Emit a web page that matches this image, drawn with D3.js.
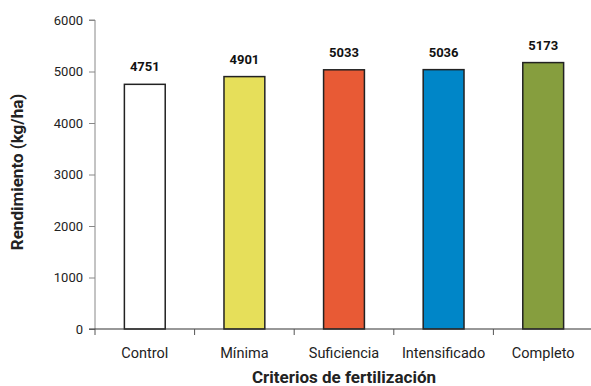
<!DOCTYPE html>
<html><head><meta charset="utf-8">
<script src="https://cdn.jsdelivr.net/npm/d3@7"></script>
<style>body{margin:0;background:#fff;font-family:Roboto,"Noto Sans",sans-serif;}</style>
</head><body><svg id="c" width="591" height="386"></svg>
<script>
const categories = ["Control","Mínima","Suficiencia","Intensificado","Completo"];
const values = [4751,4901,5033,5036,5173];
const colors = ["#ffffff","#e6df5a","#e85a35","#0086c8","#869e3e"];
const yTicks = [0,1000,2000,3000,4000,5000,6000];

const svg = d3.select("#c");
const m = {left:95, right:-2, top:20, bottom:57};
const W = 591, H = 386;
const x = d3.scaleBand().domain(categories).range([m.left, W - m.right]).paddingInner(0.59).paddingOuter(0.295);
const y = d3.scaleLinear().domain([0,6000]).range([H - m.bottom, m.top]);

// y axis
const ya = svg.append("g").attr("transform",`translate(${m.left},0)`)
  .call(d3.axisLeft(y).tickValues(yTicks).tickSize(6).tickPadding(6).tickFormat(d3.format("d")));
ya.selectAll("text").attr("font-size",13).attr("fill","#222").attr("font-family","Roboto");
ya.selectAll("line,path").attr("stroke","#888");
ya.select("path").attr("d",`M-6,${y(6000)}H0V${y(0)}`);

// bars
svg.selectAll("rect.bar").data(values).enter().append("rect")
  .attr("x",(d,i)=>x(categories[i])).attr("width",x.bandwidth())
  .attr("y",d=>y(d)).attr("height",d=>y(0)-y(d))
  .attr("fill",(d,i)=>colors[i]).attr("stroke","#222").attr("stroke-width",1.5);

// x axis with ticks at band boundaries
const xg = svg.append("g").attr("transform",`translate(0,${y(0)})`);
xg.append("line").attr("x1",m.left-6).attr("x2",W).attr("stroke","#333").attr("stroke-width",1.2);
const step = x.step();
const bounds = d3.range(categories.length).map(i=>m.left + i*step);
xg.selectAll("line.t").data(bounds).enter().append("line")
  .attr("x1",d=>d).attr("x2",d=>d).attr("y1",0).attr("y2",6).attr("stroke","#555");
xg.selectAll("text").data(categories).enter().append("text")
  .attr("x",d=>x(d)+x.bandwidth()/2).attr("y",29).attr("text-anchor","middle")
  .attr("font-size",14.5).attr("fill","#222").text(d=>d);

// value labels
svg.selectAll("text.val").data(values).enter().append("text")
  .attr("x",(d,i)=>x(categories[i])+x.bandwidth()/2).attr("y",d=>y(d)-13)
  .attr("text-anchor","middle").attr("font-size",13).attr("font-weight","bold").attr("fill","#111")
  .text(d=>d);

// titles
svg.append("text").attr("x",344).attr("y",383).attr("text-anchor","middle")
  .attr("font-size",17).attr("font-weight","bold").attr("fill","#222").text("Criterios de fertilización");
svg.append("text").attr("transform",`translate(23,172) rotate(-90)`).attr("text-anchor","middle")
  .attr("font-size",17).attr("font-weight","bold").attr("fill","#222").text("Rendimiento (kg/ha)");
</script></body></html>
